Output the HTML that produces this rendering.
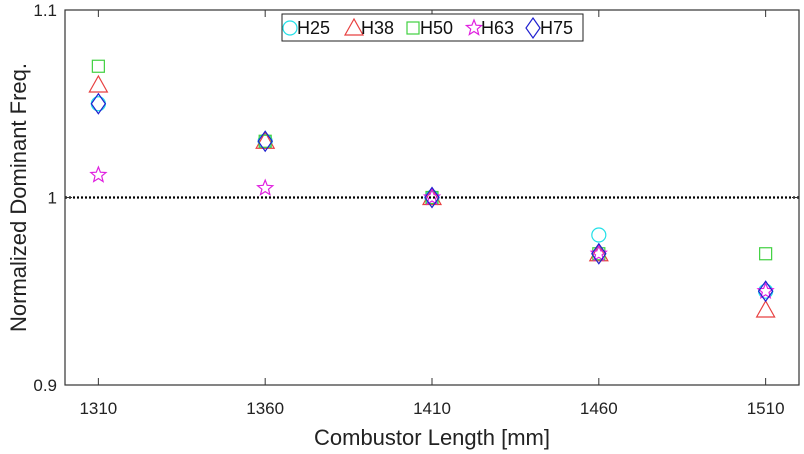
<!DOCTYPE html>
<html><head><meta charset="utf-8"><style>
body{margin:0;background:#fff;}
svg{display:block;font-family:"Liberation Sans",Arial,sans-serif;}
</style></head><body>
<svg id="chart" width="804" height="454">
<rect x="0" y="0" width="804" height="454" fill="#fff"/>
<g id="plot"></g>
</svg>
<script>
const categories=[1310,1360,1410,1460,1510];
const seriesNames=["H25","H38","H50","H63","H75"];
const h25=[1.05,1.03,1.0,0.98,0.95];
const h38=[1.06,1.03,1.0,0.97,0.94];
const h50=[1.07,1.03,1.0,0.97,0.97];
const h63=[1.012,1.005,1.0,0.97,0.95];
const h75=[1.05,1.03,1.0,0.97,0.95];
const xTicks=[1310,1360,1410,1460,1510];
const yTicks=[0.9,1,1.1];
const yTickLabels=["0.9","1","1.1"];

const L=65,R=799,T=10,B=385;
const xMin=1300,xMax=1520,yMin=0.9,yMax=1.1;
function X(v){return L+(v-xMin)/(xMax-xMin)*(R-L);}
function Y(v){return B-(v-yMin)/(yMax-yMin)*(B-T);}
const NS="http://www.w3.org/2000/svg";
const g=document.getElementById('plot');
function el(t,a,p){const e=document.createElementNS(NS,t);for(const k in a)e.setAttribute(k,a[k]);(p||g).appendChild(e);return e;}

let box=el('rect',{x:L,y:T,width:R-L,height:B-T,fill:'none',stroke:'#333','stroke-width':1.2});


let ref=el('line',{x1:L,x2:R,y1:Y(1),y2:Y(1),stroke:'#000','stroke-width':2.2,'stroke-dasharray':'2 2'});


xTicks.forEach(v=>{
  let t1=el('line',{x1:X(v),x2:X(v),y1:B,y2:B-7,stroke:'#333'});
  
  
  let t2=el('line',{x1:X(v),x2:X(v),y1:T,y2:T+7,stroke:'#333'});
  
  
  let tx=el('text',{x:X(v),y:B+29,'text-anchor':'middle','font-size':17,fill:'#222'});
  tx.textContent=v;
  
  
});
yTicks.forEach((v,i)=>{
  let t1=el('line',{x1:L,x2:L+7,y1:Y(v),y2:Y(v),stroke:'#333'});
  
  
  let t2=el('line',{x1:R,x2:R-7,y1:Y(v),y2:Y(v),stroke:'#333'});
  
  
  let tx=el('text',{x:L-8,y:Y(v)+6,'text-anchor':'end','font-size':17,fill:'#222'});
  tx.textContent=yTickLabels[i];
  
  
});
let xl=el('text',{x:(L+R)/2,y:445,'text-anchor':'middle','font-size':22,fill:'#222'});
xl.textContent='Combustor Length [mm]';


let yl=el('text',{x:0,y:0,'text-anchor':'middle','font-size':22,fill:'#222',transform:`translate(26,${(T+B)/2}) rotate(-90)`});
yl.textContent='Normalized Dominant Freq.';



function marker(type,cx,cy,color,parent){
  const a={fill:'none',stroke:color,'stroke-width':1.2};
  let e;
  if(type==='circle'){e=el('circle',Object.assign({cx:cx,cy:cy,r:7},a),parent);}
  else if(type==='tri'){e=el('polygon',Object.assign({points:`${cx},${cy-9} ${cx-9},${cy+7} ${cx+9},${cy+7}`},a),parent);}
  else if(type==='sq'){e=el('rect',Object.assign({x:cx-6,y:cy-6,width:12,height:12},a),parent);}
  else if(type==='star'){let p=[];for(let k=0;k<10;k++){const r=k%2?3.5:8;const an=-Math.PI/2+k*Math.PI/5;p.push((cx+r*Math.cos(an)).toFixed(1)+','+(cy+r*Math.sin(an)).toFixed(1));}e=el('polygon',Object.assign({points:p.join(' ')},a),parent);}
  else {e=el('polygon',Object.assign({points:`${cx},${cy-10} ${cx+7},${cy} ${cx},${cy+10} ${cx-7},${cy}`},a),parent);}
  return e;
}
const series=[[h25,'circle','#22e0e8'],[h38,'tri','#e84040'],[h50,'sq','#40d040'],[h63,'star','#e020e0'],[h75,'dia','#2020d0']];
series.forEach((s,si)=>{
  const sg=el('g',{});
  
  
  s[0].forEach((v,i)=>{
    const m=marker(s[1],X(categories[i]),Y(v),s[2],sg);
    
    
  });
});
const lg=el('g',{});


el('rect',{x:282,y:14,width:301,height:27,fill:'#fff',stroke:'#222','stroke-width':1},lg);
const lx=[290,354,413,474,533];
series.forEach((s,si)=>{
  const eg=el('g',{},lg);
  
  
  marker(s[1],lx[si],28,s[2],eg);
  const t=el('text',{x:lx[si]+7,y:34,'font-size':18,fill:'#111'},eg);
  t.textContent=seriesNames[si];
});
</script>
</body></html>
